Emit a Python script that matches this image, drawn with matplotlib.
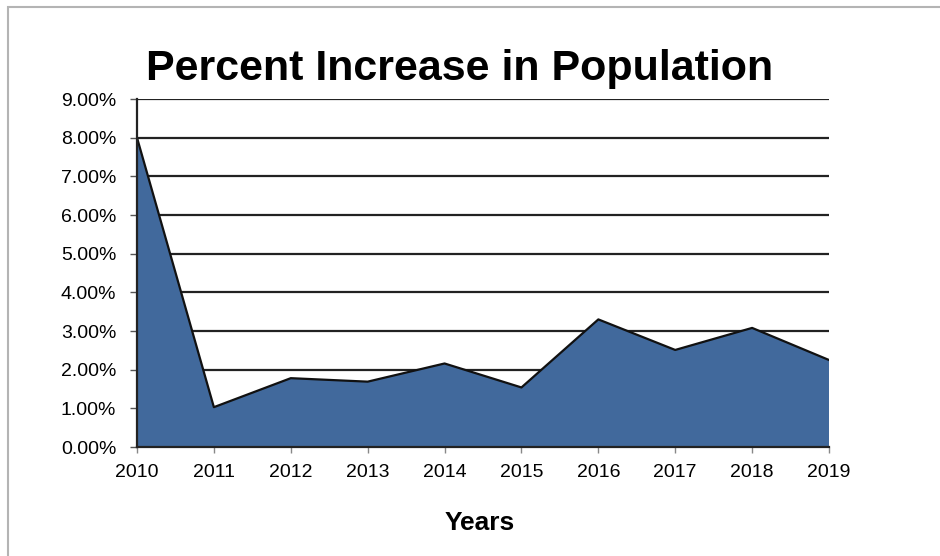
import matplotlib
matplotlib.use("Agg")
import matplotlib.pyplot as plt
from matplotlib.patches import Rectangle
from matplotlib.ticker import FuncFormatter

years = ["2010", "2011", "2012", "2013", "2014", "2015", "2016", "2017", "2018", "2019"]
pct_increase = [8.00, 1.03, 1.78, 1.69, 2.16, 1.54, 3.30, 2.51, 3.08, 2.25]
y_ticks = [0, 1, 2, 3, 4, 5, 6, 7, 8, 9]

plt.rcParams['font.family'] = ['Liberation Sans', 'DejaVu Sans']

fig = plt.figure(figsize=(9.4, 5.56), dpi=100)
W, H = 940, 556
ax = fig.add_axes([137 / W, 1 - 447 / H, (829 - 137) / W, (447 - 99) / H])

x = list(range(len(years)))
ax.fill_between(x, pct_increase, 0, facecolor="#41699c", edgecolor="none", zorder=3)
ax.plot(x, pct_increase, color="#111111", lw=1.6, zorder=4)

ax.set_xlim(0, len(years) - 1)
ax.set_ylim(0, 9)
ax.set_yticks(y_ticks)
ax.yaxis.set_major_formatter(FuncFormatter(lambda v, p: f"{v:.2f}%"))
ax.set_xticks(x)
ax.set_xticklabels(years)

for yv in y_ticks[1:]:
    ax.axhline(yv, color="#222222", lw=1.6, zorder=2)

for s in ["top", "right"]:
    ax.spines[s].set_visible(False)
for s in ["left", "bottom"]:
    ax.spines[s].set_color("#222222")
    ax.spines[s].set_linewidth(1.6)
    ax.spines[s].set_zorder(5)

ax.tick_params(axis="y", length=5, width=1, color="#555555", labelsize=14, pad=10)
ax.tick_params(axis="x", length=4, width=1, color="#888888", labelsize=14, pad=8)

fig.text(460 / W, 1 - 69 / H, "Percent Increase in Population", ha="center", va="center",
         fontsize=31, fontweight="bold")
fig.text(480 / W, 1 - 523 / H, "Years", ha="center", va="center",
         fontsize=19, fontweight="bold")

border = Rectangle((8 / W, -0.05), 1.1, 1 - 7 / H + 0.05, transform=fig.transFigure,
                   fill=False, edgecolor="#b4b4b4", lw=1.5)
fig.add_artist(border)

fig.savefig("out.png", dpi=100)
